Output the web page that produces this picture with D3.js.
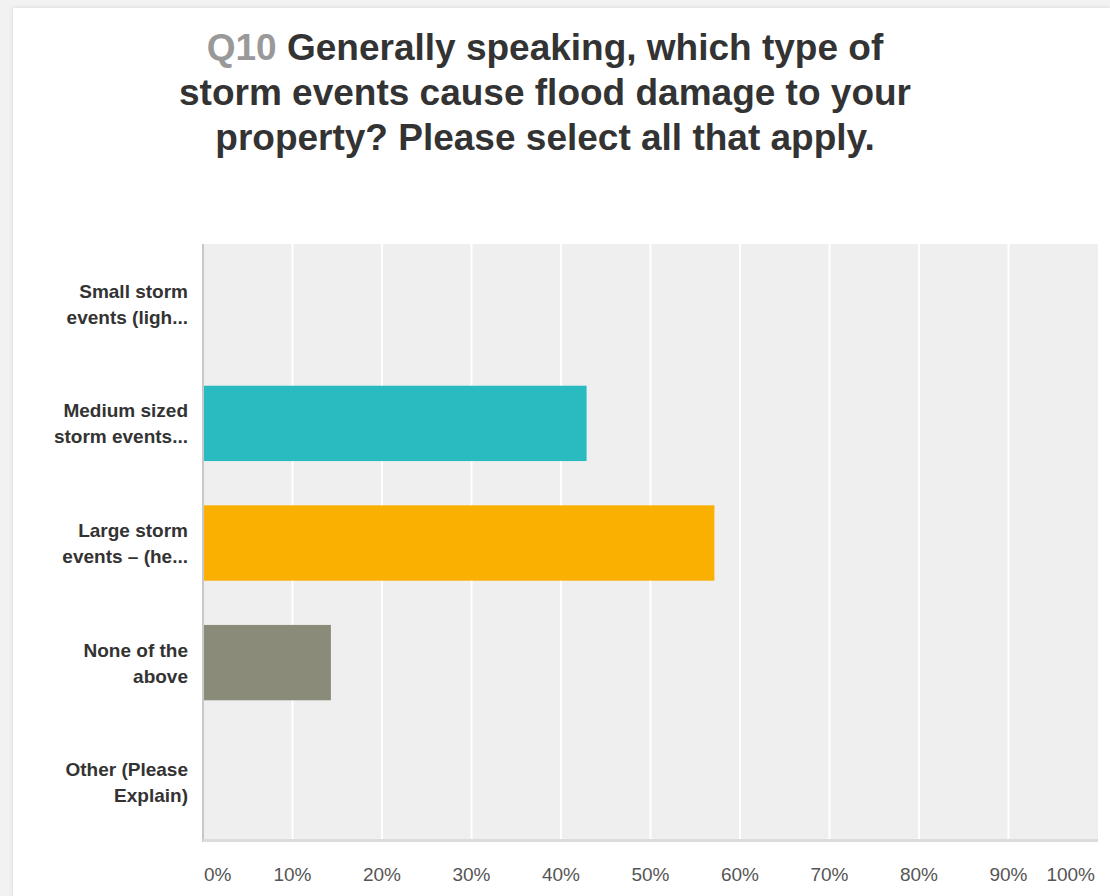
<html lang="en">
<head>
<meta charset="UTF-8">
<title>Q10</title>
<script src="https://d3js.org/d3.v7.min.js"></script>
<style>
body { margin: 0; background: #f2f2f2; font-family: "Liberation Sans", Arial, sans-serif; }
#card { position: absolute; left: 13px; top: 8px; width: 1097px; height: 888px; background: #fff;
        box-shadow: 0 0 4px rgba(0,0,0,0.12); }
svg { position: absolute; left: 0; top: 0; }
</style>
</head>
<body>
<div id="card"></div>
<svg id="chart" width="1110" height="896"></svg>
<script>
// answer choices, two lines each as shown on the axis
var categories = ["small", "medium", "large", "none", "other"];
var labelLines = [
  ["Small storm", "events (ligh..."],
  ["Medium sized", "storm events..."],
  ["Large storm", "events \u2013 (he..."],
  ["None of the", "above"],
  ["Other (Please", "Explain)"]
];
var values = [0, 42.86, 57.14, 14.29, 0];
var colors = ["#29bbc0", "#29bbc0", "#f9b000", "#8b8b7a", "#8b8b7a"];
var ticks = [0, 10, 20, 30, 40, 50, 60, 70, 80, 90, 100];
var titleLines = [
  ["Q10 ", "Generally speaking, which type of"],
  ["", "storm events cause flood damage to your"],
  ["", "property? Please select all that apply."]
];

var svg = d3.select("#chart");
var margin = {top: 244, left: 203, right: 12, bottom: 54};
var width = 1110 - margin.left - margin.right,
    height = 896 - margin.top - margin.bottom;

var x = d3.scaleLinear().domain([0, 100]).range([0, width]);
var y = d3.scaleBand().domain(categories).range([0, height]).paddingInner(0.37).paddingOuter(0.185);
var band = d3.scaleBand().domain(categories).range([0, height]);

// title
var title = svg.append("text")
    .attr("text-anchor", "middle")
    .attr("font-size", "37px")
    .attr("font-weight", "bold")
    .attr("fill", "#333");
titleLines.forEach(function(l, i) {
  var t = title.append("tspan").attr("x", 545).attr("y", 60 + i * 45);
  if (l[0]) t.append("tspan").attr("fill", "#999").text(l[0]);
  t.append("tspan").text(l[1]);
});

var g = svg.append("g").attr("transform", "translate(" + margin.left + "," + margin.top + ")");

g.append("rect")
    .attr("width", width)
    .attr("height", height)
    .attr("fill", "#efefef");

// white gridlines
g.selectAll(".grid")
  .data(ticks.slice(1, -1))
  .enter().append("line")
    .attr("x1", x).attr("x2", x)
    .attr("y1", 0).attr("y2", height)
    .attr("stroke", "#fff")
    .attr("stroke-width", 2);

g.selectAll(".bar")
  .data(values)
  .enter().append("rect")
    .attr("x", 0)
    .attr("y", function(d, i) { return y(categories[i]); })
    .attr("width", function(d) { return x(d); })
    .attr("height", y.bandwidth())
    .attr("fill", function(d, i) { return colors[i]; })
    .style("display", function(d) { return d > 0 ? null : "none"; });

// axis lines
g.append("line")
    .attr("x1", 0).attr("x2", 0).attr("y1", 0).attr("y2", height)
    .attr("stroke", "#c8c8c8").attr("stroke-width", 2);
g.append("line")
    .attr("x1", 0).attr("x2", width).attr("y1", height - 1.5).attr("y2", height - 1.5)
    .attr("stroke", "#dcdcdc").attr("stroke-width", 3);

// category labels
var yl = g.selectAll(".ylab")
  .data(labelLines)
  .enter().append("text")
    .attr("text-anchor", "end")
    .attr("font-size", "19px")
    .attr("font-weight", "bold")
    .attr("fill", "#333");
yl.selectAll("tspan")
  .data(function(d, i) { return d.map(function(s, j) { return {s: s, i: i, j: j}; }); })
  .enter().append("tspan")
    .attr("x", -15)
    .attr("y", function(d) { return band(categories[d.i]) + band.bandwidth() / 2 - 6 + d.j * 26; })
    .text(function(d) { return d.s; });

// x tick labels
g.selectAll(".xlab")
  .data(ticks)
  .enter().append("text")
    .attr("x", function(d) { return d === 0 ? x(d) + 1 : d === 100 ? x(d) - 3 : x(d); })
    .attr("y", height + 39)
    .attr("text-anchor", function(d) { return d === 0 ? "start" : d === 100 ? "end" : "middle"; })
    .attr("font-size", "19px")
    .attr("fill", "#555")
    .text(function(d) { return d + "%"; });
</script>
</body>
</html>
